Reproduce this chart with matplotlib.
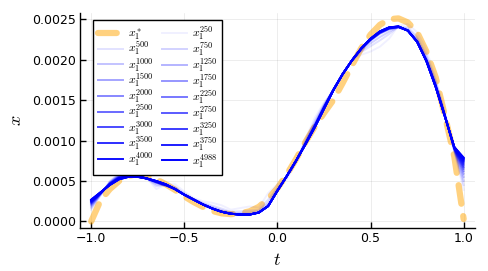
import numpy as np
import matplotlib
matplotlib.use('Agg')
import matplotlib.pyplot as plt
from matplotlib.ticker import FormatStrFormatter

# values in units of 1e-4, sampled at t = -1, -0.95, ..., 1
t = np.linspace(-1.0, 1.0, 41)

x1_star = [0.0, 2.6, 4.0, 5.0, 5.6, 5.9, 5.7, 5.2, 4.6, 3.9,
           3.1, 2.4, 1.8, 1.3, 1.0, 0.9, 1.0, 1.25, 1.8, 2.8,
           4.1, 5.8, 7.7, 9.8, 11.7, 13.4, 15.0, 17.1, 19.3, 21.4,
           23.1, 24.3, 25.0, 25.1, 24.6, 23.4, 21.0, 17.8, 13.0, 8.0, 0.3]

x1_250 = [1.4, 3.2, 5.0, 6.0, 6.1, 5.8, 5.3, 4.0, 4.6,
          4.6, 3.7, 2.9, 2.5, 2.3, 2.0, 1.45, 1.65, 1.85, 1.7, 3.5, 4.6, 5.2, 7.3,
          10.2, 12.8, 14.7, 16.1, 18.4, 19.9,
          20.6, 21.0, 21.6, 22.6, 24.2, 24.4,
          23.4, 21.2, 17.7, 13.4, 8.6, 3.9]
x1_500 = [1.6, 3.26, 4.93, 5.88, 6.01, 5.76, 5.3, 4.36, 4.5,
          4.3, 3.5, 2.8, 2.3, 1.95, 1.6, 1.2, 1.25, 1.35, 1.4, 2.7, 4.2, 5.4, 7.4,
          9.96, 12.41, 14.51, 16.22, 18.3, 19.9,
          20.93, 21.66, 22.38, 23.16, 24.08, 24.0,
          22.87, 20.64, 17.33, 13.26, 8.69, 4.5]
x1_750 = [1.76, 3.31, 4.86, 5.78, 5.93, 5.72, 5.3, 4.56, 4.46,
          4.15, 3.4, 2.75, 2.2, 1.78, 1.4, 1.08, 1.05, 1.1, 1.25, 2.3, 4.0, 5.5, 7.45,
          9.82, 12.18, 14.38, 16.27, 18.25, 19.9,
          21.11, 22.01, 22.79, 23.46, 24.03, 23.8,
          22.59, 20.34, 17.11, 13.17, 8.77, 5.02]
x1_1000 = [1.92, 3.36, 4.8, 5.68, 5.86, 5.68, 5.3, 4.76, 4.42,
           4.0, 3.3, 2.7, 2.1, 1.6, 1.2, 0.95, 0.85, 0.85, 1.1, 1.9, 3.8, 5.6, 7.5,
           9.68, 11.96, 14.26, 16.32, 18.2, 19.9,
           21.28, 22.36, 23.2, 23.76, 23.98, 23.6,
           22.32, 20.04, 16.9, 13.08, 8.84, 5.5]
x1_1250 = [2.05, 3.4, 4.75, 5.6, 5.8, 5.65, 5.3, 4.8, 4.45,
           4.0, 3.3, 2.7, 2.1, 1.6, 1.2, 0.95, 0.85, 0.85, 1.1, 1.9, 3.8, 5.6, 7.5,
           9.65, 11.9, 14.2, 16.3, 18.2, 19.9,
           21.3, 22.4, 23.25, 23.8, 24.0, 23.6,
           22.3, 20.0, 16.85, 13.05, 8.9, 5.9]
x1_1500 = [2.15, 3.43, 4.71, 5.54, 5.75, 5.63, 5.3, 4.83, 4.47,
           4.0, 3.3, 2.7, 2.1, 1.6, 1.2, 0.95, 0.85, 0.85, 1.1, 1.9, 3.8, 5.6, 7.5,
           9.63, 11.85, 14.15, 16.28, 18.2, 19.9,
           21.32, 22.43, 23.29, 23.83, 24.02, 23.6,
           22.28, 19.97, 16.81, 13.03, 8.95, 6.22]
x1_1750 = [2.25, 3.46, 4.68, 5.48, 5.71, 5.61, 5.3, 4.86, 4.5,
           4.0, 3.3, 2.7, 2.1, 1.6, 1.2, 0.95, 0.85, 0.85, 1.1, 1.9, 3.8, 5.6, 7.5,
           9.61, 11.81, 14.11, 16.27, 18.2, 19.9,
           21.33, 22.46, 23.33, 23.86, 24.03, 23.6,
           22.27, 19.94, 16.78, 13.01, 8.99, 6.5]
x1_2000 = [2.31, 3.48, 4.65, 5.44, 5.68, 5.59, 5.3, 4.88, 4.51,
           4.0, 3.3, 2.7, 2.1, 1.6, 1.2, 0.95, 0.85, 0.85, 1.1, 1.9, 3.8, 5.6, 7.5,
           9.59, 11.78, 14.08, 16.26, 18.2, 19.9,
           21.34, 22.48, 23.35, 23.88, 24.04, 23.6,
           22.26, 19.92, 16.75, 12.99, 9.02, 6.7]
x1_2250 = [2.38, 3.5, 4.63, 5.4, 5.65, 5.58, 5.3, 4.9, 4.53,
           4.0, 3.3, 2.7, 2.1, 1.6, 1.2, 0.95, 0.85, 0.85, 1.1, 1.9, 3.8, 5.6, 7.5,
           9.58, 11.75, 14.05, 16.25, 18.2, 19.9,
           21.35, 22.5, 23.38, 23.9, 24.05, 23.6,
           22.25, 19.9, 16.73, 12.98, 9.05, 6.9]
x1_2500 = [2.44, 3.52, 4.6, 5.36, 5.62, 5.56, 5.3, 4.92, 4.54,
           4.0, 3.3, 2.7, 2.1, 1.6, 1.2, 0.95, 0.85, 0.85, 1.1, 1.9, 3.8, 5.6, 7.5,
           9.56, 11.72, 14.02, 16.24, 18.2, 19.9,
           21.36, 22.52, 23.4, 23.92, 24.06, 23.6,
           22.24, 19.88, 16.7, 12.96, 9.08, 7.1]
x1_2750 = [2.49, 3.54, 4.58, 5.33, 5.6, 5.55, 5.3, 4.94, 4.55,
           4.0, 3.3, 2.7, 2.1, 1.6, 1.2, 0.95, 0.85, 0.85, 1.1, 1.9, 3.8, 5.6, 7.5,
           9.55, 11.7, 14.0, 16.23, 18.2, 19.9,
           21.37, 22.54, 23.42, 23.94, 24.07, 23.6,
           22.23, 19.86, 16.68, 12.95, 9.1, 7.26]
x1_3000 = [2.54, 3.55, 4.56, 5.3, 5.57, 5.54, 5.3, 4.95, 4.56,
           4.0, 3.3, 2.7, 2.1, 1.6, 1.2, 0.95, 0.85, 0.85, 1.1, 1.9, 3.8, 5.6, 7.5,
           9.54, 11.67, 13.97, 16.22, 18.2, 19.9,
           21.38, 22.55, 23.44, 23.95, 24.08, 23.6,
           22.22, 19.85, 16.66, 12.94, 9.13, 7.42]
x1_3250 = [2.58, 3.56, 4.55, 5.27, 5.55, 5.53, 5.3, 4.96, 4.57,
           4.0, 3.3, 2.7, 2.1, 1.6, 1.2, 0.95, 0.85, 0.85, 1.1, 1.9, 3.8, 5.6, 7.5,
           9.53, 11.65, 13.95, 16.22, 18.2, 19.9,
           21.38, 22.56, 23.46, 23.96, 24.08, 23.6,
           22.22, 19.84, 16.65, 12.93, 9.15, 7.54]
x1_3500 = [2.62, 3.58, 4.53, 5.25, 5.54, 5.52, 5.3, 4.98, 4.58,
           4.0, 3.3, 2.7, 2.1, 1.6, 1.2, 0.95, 0.85, 0.85, 1.1, 1.9, 3.8, 5.6, 7.5,
           9.52, 11.64, 13.94, 16.21, 18.2, 19.9,
           21.39, 22.58, 23.47, 23.98, 24.09, 23.6,
           22.21, 19.82, 16.63, 12.92, 9.16, 7.66]
x1_3750 = [2.65, 3.58, 4.52, 5.23, 5.52, 5.51, 5.3, 4.98, 4.59,
           4.0, 3.3, 2.7, 2.1, 1.6, 1.2, 0.95, 0.85, 0.85, 1.1, 1.9, 3.8, 5.6, 7.5,
           9.51, 11.62, 13.92, 16.21, 18.2, 19.9,
           21.39, 22.58, 23.48, 23.98, 24.09, 23.6,
           22.21, 19.82, 16.62, 12.91, 9.18, 7.74]
x1_4000 = [2.67, 3.59, 4.51, 5.22, 5.51, 5.51, 5.3, 4.99, 4.59,
           4.0, 3.3, 2.7, 2.1, 1.6, 1.2, 0.95, 0.85, 0.85, 1.1, 1.9, 3.8, 5.6, 7.5,
           9.51, 11.61, 13.91, 16.2, 18.2, 19.9,
           21.4, 22.59, 23.49, 23.99, 24.1, 23.6,
           22.2, 19.81, 16.61, 12.91, 9.19, 7.82]
x1_4988 = [2.7, 3.6, 4.5, 5.2, 5.5, 5.5, 5.3, 5.0, 4.6,
           4.0, 3.3, 2.7, 2.1, 1.6, 1.2, 0.95, 0.85, 0.85, 1.1, 1.9, 3.8, 5.6, 7.5,
           9.5, 11.6, 13.9, 16.2, 18.2, 19.9,
           21.4, 22.6, 23.5, 24.0, 24.1, 23.6,
           22.2, 19.8, 16.6, 12.9, 9.2, 7.9]

iterations = [250, 500, 750, 1000, 1250, 1500, 1750, 2000, 2250,
              2500, 2750, 3000, 3250, 3500, 3750, 4000, 4988]
iterates = [x1_250, x1_500, x1_750, x1_1000, x1_1250, x1_1500, x1_1750,
            x1_2000, x1_2250, x1_2500, x1_2750, x1_3000, x1_3250, x1_3500,
            x1_3750, x1_4000, x1_4988]

plt.rcParams['mathtext.fontset'] = 'cm'
plt.rcParams['font.family'] = 'DejaVu Sans'

fig = plt.figure(figsize=(4.88, 2.71), dpi=100)
ax = fig.add_axes([0.164, 0.159, 0.809, 0.794])

ax.plot(t, np.array(x1_star) * 1e-4, color='orange', alpha=0.5, lw=4.5,
        dashes=(3, 2), dash_capstyle='round', solid_capstyle='round',
        label=r'$x_1^*$')

n = len(iterations)
for i, (it, xs) in enumerate(zip(iterations, iterates)):
    ax.plot(t, np.array(xs) * 1e-4, color='blue', alpha=(i + 1) / n, lw=1.4,
            label=r'$x_1^{%d}$' % it)

ax.set_xlim(-1.06, 1.06)
ax.set_ylim(-0.00008, 0.00258)
ax.set_xticks([-1.0, -0.5, 0.0, 0.5, 1.0])
ax.set_yticks([0.0, 0.0005, 0.001, 0.0015, 0.002, 0.0025])
ax.yaxis.set_major_formatter(FormatStrFormatter('%.4f'))
ax.grid(True, color='black', alpha=0.1, lw=0.5)
ax.tick_params(direction='in', length=4, width=1, labelsize=9, pad=3)
for s in ['top', 'right']:
    ax.spines[s].set_visible(False)
for s in ['left', 'bottom']:
    ax.spines[s].set_linewidth(1.0)

ax.set_xlabel(r'$t$', fontsize=13, labelpad=4)
ax.set_ylabel(r'$x$', fontsize=13, labelpad=5)

# Plots.jl fills legend rows first, matplotlib fills columns first.
# Rows are packed tightly (as in the reference), so the script-heavy
# labels sit close together.
h, l = ax.get_legend_handles_labels()
order = list(range(0, len(h), 2)) + list(range(1, len(h), 2))
leg = ax.legend([h[i] for i in order], [l[i] for i in order], ncol=2,
                loc='upper left', bbox_to_anchor=(0.034, 0.966), fontsize=8.5,
                fancybox=False, edgecolor='black', framealpha=1,
                handlelength=2.1, labelspacing=-0.2, columnspacing=0.75,
                handletextpad=0.4, borderaxespad=0, borderpad=0.4)
leg.get_frame().set_linewidth(1.0)

plt.savefig('out.png', dpi=100)
